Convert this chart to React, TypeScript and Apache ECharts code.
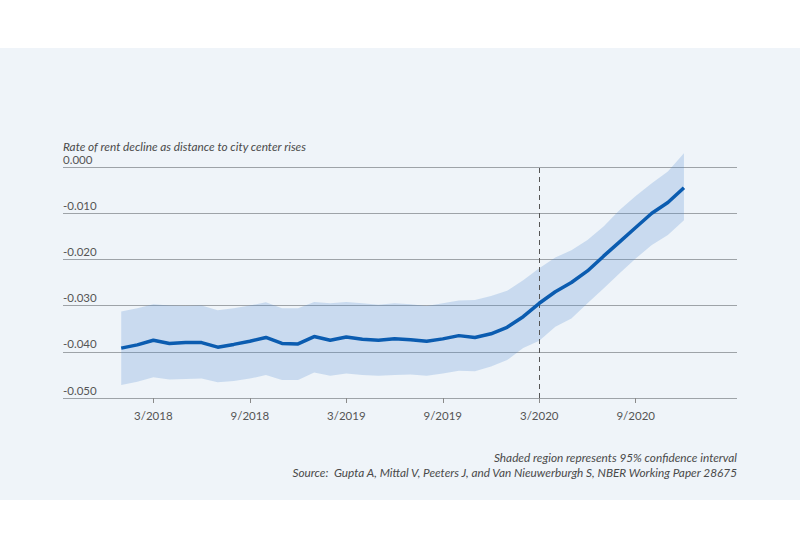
import React, { useEffect, useRef } from "react";
import * as echarts from "echarts";

// Monthly observations, 1/2018 .. 12/2020
const months = [
  "1/2018", "2/2018", "3/2018", "4/2018", "5/2018", "6/2018", "7/2018", "8/2018", "9/2018", "10/2018", "11/2018", "12/2018",
  "1/2019", "2/2019", "3/2019", "4/2019", "5/2019", "6/2019", "7/2019", "8/2019", "9/2019", "10/2019", "11/2019", "12/2019",
  "1/2020", "2/2020", "3/2020", "4/2020", "5/2020", "6/2020", "7/2020", "8/2020", "9/2020", "10/2020", "11/2020", "12/2020",
];

const estimate = [
  -0.0392, -0.0385, -0.0375, -0.0382, -0.0380, -0.0380, -0.0390, -0.0384, -0.0377, -0.0369, -0.0382, -0.0383,
  -0.0367, -0.0375, -0.0368, -0.0373, -0.0375, -0.0372, -0.0374, -0.0377, -0.0372, -0.0365, -0.0369, -0.0361,
  -0.0347, -0.0324, -0.0295, -0.0270, -0.0250, -0.0225, -0.0193, -0.0162, -0.0131, -0.0100, -0.0077, -0.0045,
];

const upper = [
  -0.0313, -0.0306, -0.0297, -0.0300, -0.0301, -0.0300, -0.0310, -0.0306, -0.0300, -0.0293, -0.0306, -0.0306,
  -0.0292, -0.0295, -0.0292, -0.0295, -0.0298, -0.0295, -0.0297, -0.0301, -0.0295, -0.0289, -0.0288, -0.0279,
  -0.0268, -0.0245, -0.0219, -0.0196, -0.0180, -0.0158, -0.0129, -0.0093, -0.0063, -0.0035, -0.0010, 0.0030,
];

const lower = [
  -0.0472, -0.0465, -0.0455, -0.0460, -0.0459, -0.0458, -0.0466, -0.0463, -0.0458, -0.0450, -0.0461, -0.0461,
  -0.0445, -0.0452, -0.0447, -0.0450, -0.0452, -0.0450, -0.0449, -0.0452, -0.0447, -0.0441, -0.0442, -0.0432,
  -0.0418, -0.0392, -0.0376, -0.0346, -0.0328, -0.0295, -0.0263, -0.0230, -0.0198, -0.0169, -0.0147, -0.0115,
];

const tickLabels = ["3/2018", "9/2018", "3/2019", "9/2019", "3/2020", "9/2020"];
const markerMonth = "3/2020";

const titleText = "Rate of rent decline as distance to city center rises";
const noteText = "Shaded region represents 95% confidence interval";
const sourceText = "Source:  Gupta A, Mittal V, Peeters J, and Van Nieuwerburgh S, NBER Working Paper 28675";

const FONT = "Lato, 'Noto Sans', sans-serif";

export default function App() {
  const ref = useRef<HTMLDivElement>(null);

  useEffect(() => {
    if (!ref.current) return;
    const chart = echarts.init(ref.current, undefined, { renderer: "svg" });

    const tickIdx = tickLabels.map((l) => months.indexOf(l));
    const markerIdx = months.indexOf(markerMonth);

    const lineData = months.map((_, i) => [i, estimate[i]]);

    chart.setOption({
      animation: false,
      backgroundColor: "#ffffff",
      textStyle: { fontFamily: FONT },
      grid: { left: 63, right: 63, top: 167, bottom: 152, containLabel: false },
      graphic: [
        {
          type: "rect",
          z: -10,
          silent: true,
          shape: { x: 0, y: 48, width: 800, height: 452 },
          style: { fill: "#eff4f9" },
        },
        {
          type: "text",
          x: 63,
          y: 146,
          style: {
            text: titleText,
            fill: "#4a4a4a",
            font: `italic 11.8px ${FONT}`,
            verticalAlign: "middle",
            align: "left",
          },
        },
        {
          type: "text",
          x: 737,
          y: 457,
          style: {
            text: noteText,
            fill: "#4a4a4a",
            font: `italic 11.8px ${FONT}`,
            verticalAlign: "middle",
            align: "right",
          },
        },
        {
          type: "text",
          x: 737,
          y: 472,
          style: {
            text: sourceText,
            fill: "#4a4a4a",
            font: `italic 11.8px ${FONT}`,
            verticalAlign: "middle",
            align: "right",
          },
        },
      ],
      xAxis: {
        type: "value",
        min: -3.62,
        max: 38.3,
        axisLine: { show: false, onZero: false },
        splitLine: { show: false },
        axisTick: {
          show: true,
          customValues: tickIdx,
          length: 5,
          lineStyle: { color: "#8a8a8a", width: 1 },
        },
        axisLabel: {
          customValues: tickIdx,
          formatter: (v: number) => months[Math.round(v)] ?? "",
          color: "#555555",
          fontSize: 11.5,
          fontFamily: FONT,
          margin: 11,
        },
      },
      yAxis: {
        type: "value",
        min: -0.05,
        max: 0,
        interval: 0.01,
        axisLine: { show: false },
        axisTick: { show: false },
        splitLine: { show: true, lineStyle: { color: "#9ea3a8", width: 1 } },
        axisLabel: {
          inside: true,
          margin: 0,
          verticalAlign: "bottom",
          padding: [0, 0, 2, 0],
          color: "#555555",
          fontSize: 11.5,
          fontFamily: FONT,
          formatter: (v: number) => v.toFixed(3),
        },
      },
      series: [
        {
          type: "custom",
          name: "95% CI",
          silent: true,
          z: 1,
          data: [0],
          encode: { x: -1, y: -1 },
          renderItem: (_params: any, api: any) => {
            const top = months.map((_, i) => api.coord([i, upper[i]]));
            const bottom = months.map((_, i) => api.coord([i, lower[i]])).reverse();
            return {
              type: "polygon",
              shape: { points: top.concat(bottom) },
              style: { fill: "rgba(80,140,210,0.24)" },
            };
          },
        },
        {
          type: "line",
          name: "estimate",
          data: lineData,
          symbol: "none",
          lineStyle: { color: "#0b5cb0", width: 3.5 },
          z: 5,
          markLine: {
            silent: true,
            symbol: "none",
            label: { show: false },
            lineStyle: { color: "#555555", type: [5, 4], width: 1 },
            data: [{ xAxis: markerIdx }],
          },
        },
      ],
    });

    return () => chart.dispose();
  }, []);

  return (
    <div
      ref={ref}
      style={{ position: "fixed", left: 0, top: 0, width: 800, height: 550 }}
    />
  );
}
